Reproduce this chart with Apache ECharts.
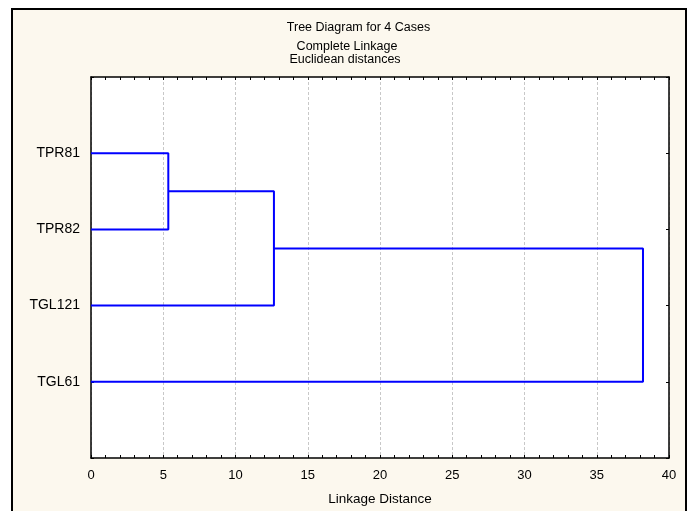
<!DOCTYPE html>
<html><head><meta charset="utf-8">
<script src="https://cdn.jsdelivr.net/npm/echarts@6/dist/echarts.min.js"></script>
<style>html,body{margin:0;padding:0;background:#fff}#c{width:695px;height:511px}</style>
</head><body><div id="c"></div>
<script>
// Data
const leafLabels = ['TPR81', 'TPR82', 'TGL121', 'TGL61'];
const leafPositions = [1, 2, 3, 4];
// merges: [childA, childB, linkage distance]; children >= 4 refer to earlier merges
const mergeChildA = [0, 4, 5];
const mergeChildB = [1, 2, 3];
const mergeHeights = [5.35, 12.66, 38.2];
const xTicks = [0, 5, 10, 15, 20, 25, 30, 35, 40];
const titleLines = ['Tree Diagram for 4 Cases', 'Complete Linkage', 'Euclidean distances'];
const xAxisTitle = 'Linkage Distance';

// Build dendrogram segments
const nodeY = leafPositions.slice();
const nodeH = leafPositions.map(() => 0);
const segData = [];
for (let i = 0; i < mergeHeights.length; i++) {
  const a = mergeChildA[i], b = mergeChildB[i], h = mergeHeights[i];
  segData.push([nodeH[a], nodeY[a]], [h, nodeY[a]], [h, nodeY[b]], [nodeH[b], nodeY[b]], null);
  nodeY.push((nodeY[a] + nodeY[b]) / 2);
  nodeH.push(h);
}
const series = [];
let cur = [];
segData.forEach(p => { if (p === null) { series.push(cur); cur = []; } else cur.push(p); });

const font = '"Liberation Sans", Arial, sans-serif';
const chart = echarts.init(document.getElementById('c'));
const labelMap = {};
leafPositions.forEach((p, i) => labelMap[p] = leafLabels[i]);

const axisLine = { show: true, onZero: false, lineStyle: { color: '#000', width: 1.5 } };
const xCommon = {
  type: 'value', min: 0, max: 40, interval: 5,
  axisLine: axisLine,
  axisTick: { show: true, inside: true, length: 3, lineStyle: { color: '#000' } },
  minorTick: { show: true, splitNumber: 5, length: 3, lineStyle: { color: '#000' } },
};
chart.setOption({
  animation: false,
  backgroundColor: '#fff',
  graphic: [
    { type: 'rect', z: -10, shape: { x: 12, y: 9, width: 674, height: 520 },
      style: { fill: '#FCF8EE', stroke: '#000', lineWidth: 2 } },
    { type: 'text', x: 358.5, y: 28, style: { text: titleLines[0], font: '12.5px ' + font, fill: '#000', align: 'center', verticalAlign: 'middle' } },
    { type: 'text', x: 347, y: 47, style: { text: titleLines[1], font: '12.5px ' + font, fill: '#000', align: 'center', verticalAlign: 'middle' } },
    { type: 'text', x: 345, y: 60, style: { text: titleLines[2], font: '12.5px ' + font, fill: '#000', align: 'center', verticalAlign: 'middle' } },
  ],
  grid: { left: 91, top: 77, width: 578, height: 383, show: true, backgroundColor: '#fff', borderWidth: 0 },
  xAxis: [
    Object.assign({}, xCommon, {
      position: 'bottom',
      name: xAxisTitle, nameLocation: 'middle', nameGap: 34,
      nameTextStyle: { fontFamily: font, fontSize: 13.5, color: '#000' },
      axisLabel: { show: true, color: '#000', fontFamily: font, fontSize: 13, margin: 11,
        formatter: v => xTicks.includes(v) ? String(v) : '' },
      splitLine: { show: true, lineStyle: { color: '#c8c8c8', type: [3, 2], width: 1 } },
    }),
    Object.assign({}, xCommon, {
      position: 'top', axisLabel: { show: false }, splitLine: { show: false },
    }),
  ],
  yAxis: [
    { type: 'value', min: 0, max: 5, interval: 1, inverse: true, position: 'left',
      axisLine: axisLine,
      axisTick: { show: true, inside: true, length: 3, lineStyle: { color: '#000' } },
      axisLabel: { color: '#000', fontFamily: font, fontSize: 14, margin: 11,
        formatter: v => labelMap[v] || '' },
      splitLine: { show: false } },
    { type: 'value', min: 0, max: 5, interval: 1, inverse: true, position: 'right',
      axisLine: axisLine,
      axisTick: { show: true, inside: true, length: 3, lineStyle: { color: '#000' } },
      axisLabel: { show: false }, splitLine: { show: false } },
  ],
  series: series.map(d => ({
    type: 'line', data: d, xAxisIndex: 0, yAxisIndex: 0,
    showSymbol: false, symbol: 'none',
    lineStyle: { color: '#0000FF', width: 2 }, z: 5,
  })),
});
</script></body></html>
